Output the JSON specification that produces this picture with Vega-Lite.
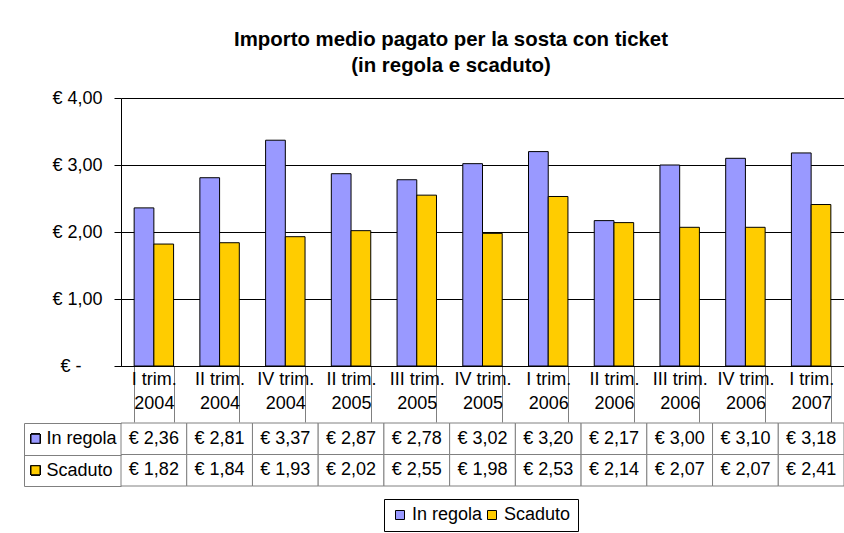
{
  "$schema": "https://vega.github.io/schema/vega-lite/v6.json",
  "padding": {"left": 23, "top": 29, "right": 0, "bottom": 0},
  "background": "white",
  "title": {
    "text": ["Importo medio pagato per la sosta con ticket", "(in regola e scaduto)"],
    "fontSize": 20.4, "fontWeight": "bold", "lineHeight": 26, "anchor": "middle",
    "dx": 17, "offset": 13, "color": "black", "font": "Liberation Sans"
  },
  "data": {"values": [
    {"periodo": "I trim. 2004", "serie": "In regola", "valore": 2.36},
    {"periodo": "II trim. 2004", "serie": "In regola", "valore": 2.81},
    {"periodo": "IV trim. 2004", "serie": "In regola", "valore": 3.37},
    {"periodo": "II trim. 2005", "serie": "In regola", "valore": 2.87},
    {"periodo": "III trim. 2005", "serie": "In regola", "valore": 2.78},
    {"periodo": "IV trim. 2005", "serie": "In regola", "valore": 3.02},
    {"periodo": "I trim. 2006", "serie": "In regola", "valore": 3.20},
    {"periodo": "II trim. 2006", "serie": "In regola", "valore": 2.17},
    {"periodo": "III trim. 2006", "serie": "In regola", "valore": 3.00},
    {"periodo": "IV trim. 2006", "serie": "In regola", "valore": 3.10},
    {"periodo": "I trim. 2007", "serie": "In regola", "valore": 3.18},
    {"periodo": "I trim. 2004", "serie": "Scaduto", "valore": 1.82},
    {"periodo": "II trim. 2004", "serie": "Scaduto", "valore": 1.84},
    {"periodo": "IV trim. 2004", "serie": "Scaduto", "valore": 1.93},
    {"periodo": "II trim. 2005", "serie": "Scaduto", "valore": 2.02},
    {"periodo": "III trim. 2005", "serie": "Scaduto", "valore": 2.55},
    {"periodo": "IV trim. 2005", "serie": "Scaduto", "valore": 1.98},
    {"periodo": "I trim. 2006", "serie": "Scaduto", "valore": 2.53},
    {"periodo": "II trim. 2006", "serie": "Scaduto", "valore": 2.14},
    {"periodo": "III trim. 2006", "serie": "Scaduto", "valore": 2.07},
    {"periodo": "IV trim. 2006", "serie": "Scaduto", "valore": 2.07},
    {"periodo": "I trim. 2007", "serie": "Scaduto", "valore": 2.41}
  ]},
  "spacing": -9,
  "bounds": "full",
  "vconcat": [
    {
      "hconcat": [
        {
          "width": 23, "height": 268,
          "mark": {"type": "text"},
          "encoding": {"text": {"value": ""}}
        },
        {
          "width": 723, "height": 268,
          "mark": {"type": "bar", "stroke": "black", "strokeWidth": 1},
          "encoding": {
            "x": {
              "field": "periodo", "type": "nominal", "sort": null,
              "scale": {"paddingInner": 0.4, "paddingOuter": 0.2},
              "axis": {
                "title": null, "labelAngle": 0, "labelOverlap": false,
                "labelExpr": "[slice(datum.label, 0, -5), slice(datum.label, -4)]",
                "labelFontSize": 18, "labelColor": "black", "labelLineHeight": 24,
                "labelPadding": -52, "tickBand": "extent", "tickSize": 56,
                "tickColor": "#808080", "domainColor": "black"
              }
            },
            "xOffset": {
              "field": "serie", "type": "nominal", "sort": ["In regola", "Scaduto"],
              "scale": {"paddingInner": 0, "paddingOuter": 0}
            },
            "y": {
              "field": "valore", "type": "quantitative",
              "scale": {"domain": [0, 4]},
              "axis": {
                "title": null, "values": [0, 1, 2, 3, 4], "format": "$.2f",
                "labelExpr": "datum.value == 0 ? '€ -' : datum.label",
                "labelPadding": {"condition": {"test": "datum.value == 0", "value": 33}, "value": 12},
                "labelFontSize": 18, "labelColor": "black", "tickSize": 7,
                "grid": true, "gridColor": "black", "domainColor": "black", "tickColor": "black"
              }
            },
            "color": {
              "field": "serie", "type": "nominal",
              "scale": {"domain": ["In regola", "Scaduto"], "range": ["#9999FF", "#FFCC00"]},
              "legend": {
                "orient": "none", "legendX": 360, "legendY": 401, "direction": "horizontal",
                "title": null, "symbolType": "square", "symbolSize": 81,
                "symbolStrokeColor": "black", "symbolStrokeWidth": 1,
                "labelFontSize": 18, "labelColor": "black", "strokeColor": "black",
                "fillColor": "white", "padding": 7, "columnPadding": 0, "labelOffset": 3
              }
            }
          }
        }
      ],
      "spacing": 74,
      "bounds": "flush"
    },
    {
      "hconcat": [
        {
          "width": 23, "height": 63,
          "mark": {"type": "point", "shape": "square", "size": 81, "filled": true, "stroke": "black", "strokeWidth": 1, "opacity": 1},
          "encoding": {
            "y": {
              "field": "serie", "type": "nominal", "sort": ["In regola", "Scaduto"],
              "scale": {"paddingInner": 0, "paddingOuter": 0},
              "axis": {"title": null, "labels": false, "ticks": false, "domain": true, "domainColor": "#808080", "grid": false}
            },
            "color": {
              "field": "serie", "type": "nominal",
              "scale": {"domain": ["In regola", "Scaduto"], "range": ["#9999FF", "#FFCC00"]},
              "legend": {
                "orient": "none", "legendX": 360, "legendY": 401, "direction": "horizontal",
                "title": null, "symbolType": "square", "symbolSize": 81,
                "symbolStrokeColor": "black", "symbolStrokeWidth": 1,
                "labelFontSize": 18, "labelColor": "black", "strokeColor": "black",
                "fillColor": "white", "padding": 7, "columnPadding": 0, "labelOffset": 3
              }
            }
          }
        },
        {
          "width": 723, "height": 63,
          "encoding": {
            "x": {
              "field": "periodo", "type": "nominal", "sort": null,
              "scale": {"paddingInner": 0, "paddingOuter": 0}, "axis": null
            },
            "y": {
              "field": "serie", "type": "nominal", "sort": ["In regola", "Scaduto"],
              "scale": {"paddingInner": 0, "paddingOuter": 0},
              "axis": {
                "title": null, "domain": false, "tickBand": "extent", "tickSize": 97,
                "tickColor": "#808080", "labelAlign": "left", "labelPadding": -22,
                "labelFontSize": 18, "labelColor": "black"
              }
            }
          },
          "layer": [
            {"mark": {"type": "rect", "fill": "white", "stroke": "#808080", "strokeWidth": 1}},
            {
              "mark": {"type": "text", "fontSize": 18, "color": "black"},
              "encoding": {"text": {"field": "valore", "type": "quantitative", "format": "$.2f"}}
            }
          ]
        }
      ],
      "spacing": 74,
      "bounds": "flush"
    }
  ],
  "config": {
    "font": "Liberation Sans",
    "view": {"stroke": null},
    "axis": {"labelFont": "Liberation Sans"},
    "legend": {"labelFont": "Liberation Sans"},
    "locale": {"number": {"decimal": ",", "thousands": ".", "grouping": [3], "currency": ["€ ", ""]}}
  }
}
